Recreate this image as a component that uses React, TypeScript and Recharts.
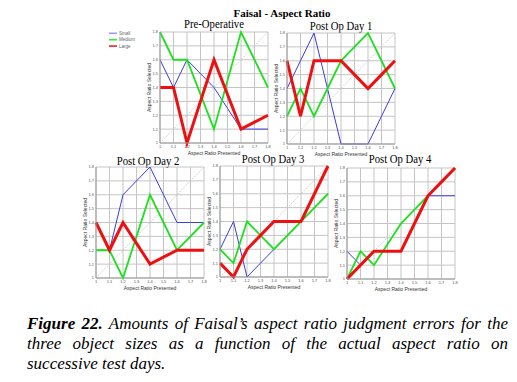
import * as React from "react";
import { CartesianGrid, Line, LineChart, ReferenceLine, XAxis, YAxis } from "recharts";

const ratios = [1, 1.1, 1.2, 1.3, 1.4, 1.5, 1.6, 1.7, 1.8];

const preOpSmall = [1.6, 1.4, 1.6, 1.5, 1.4, 1.25, 1.1, 1.1, 1.1];
const preOpMedium = [1.8, 1.6, 1.6, 1.35, 1.1, 1.45, 1.8, 1.6, 1.4];
const preOpLarge = [1.4, 1.4, 1.0, 1.3, 1.6, 1.35, 1.1, 1.15, 1.2];

const day1Small = [1.4, 1.6, 1.8, 1.4, 1.0, 1.0, 1.0, 1.2, 1.4];
const day1Medium = [1.2, 1.4, 1.2, 1.4, 1.6, 1.7, 1.8, 1.6, 1.4];
const day1Large = [1.6, 1.2, 1.6, 1.6, 1.6, 1.5, 1.4, 1.5, 1.6];

const day2Small = [1.2, 1.2, 1.6, 1.7, 1.8, 1.6, 1.4, 1.4, 1.4];
const day2Medium = [1.2, 1.2, 1.0, 1.3, 1.6, 1.4, 1.2, 1.3, 1.4];
const day2Large = [1.4, 1.2, 1.4, 1.25, 1.1, 1.15, 1.2, 1.2, 1.2];

const day3Small = [1.2, 1.4, 1.0, 1.1, 1.2, 1.3, 1.4, 1.5, 1.6];
const day3Medium = [1.2, 1.1, 1.4, 1.3, 1.2, 1.3, 1.4, 1.5, 1.6];
const day3Large = [1.1, 1.0, 1.2, 1.3, 1.4, 1.4, 1.4, 1.6, 1.8];

const day4Small = [1.2, 1.1, 1.2, 1.2, 1.2, 1.4, 1.6, 1.6, 1.6];
const day4Medium = [1.0, 1.2, 1.1, 1.25, 1.4, 1.5, 1.6, 1.7, 1.8];
const day4Large = [1.0, 1.1, 1.2, 1.2, 1.2, 1.4, 1.6, 1.7, 1.8];

const BLUE = "#3c3cdc";
const GREEN = "#1fe01f";
const RED = "#ee1010";
const SANS = "'Liberation Sans', Arial, sans-serif";
const SERIF = "'Liberation Serif', serif";

const PLOT_W = 108;
const PLOT_H = 111;

interface PanelProps {
  title: string;
  small: number[];
  medium: number[];
  large: number[];
  x0: number;
  y0: number;
  titleX: number;
  titleY: number;
}

function Panel({ title, small, medium, large, x0, y0, titleX, titleY }: PanelProps): React.JSX.Element {
  const data = ratios.map((x, i) => ({ x, small: small[i], medium: medium[i], large: large[i] }));
  const tick = { fontSize: 4, fill: "#555", fontFamily: SANS };
  return (
    <>
      <div
        style={{
          position: "absolute",
          left: titleX - 60,
          top: titleY - 8,
          width: 120,
          textAlign: "center",
          fontFamily: SERIF,
          fontSize: 12,
          lineHeight: "16px",
          transform: "scaleX(0.89)",
        }}
      >
        {title}
      </div>
      <div style={{ position: "absolute", left: x0 - 22, top: y0 - 4, fontFamily: SANS }}>
        <LineChart width={PLOT_W + 26} height={PLOT_H + 20} data={data} margin={{ top: 4, right: 4, left: 10, bottom: 0 }}>
          <CartesianGrid stroke="#c4c4c4" />
          <XAxis
            type="number"
            dataKey="x"
            domain={[1, 1.8]}
            ticks={ratios}
            interval={0}
            height={16}
            tickSize={0}
            tickMargin={2}
            tick={tick}
            stroke="#999"
            label={{
              value: "Aspect Ratio Presented",
              position: "insideBottom",
              offset: 4.5,
              style: { fontSize: 5, fill: "#333", fontFamily: SANS },
            }}
          />
          <YAxis
            type="number"
            domain={[1, 1.8]}
            ticks={ratios}
            interval={0}
            width={12}
            tickSize={0}
            tickMargin={2}
            tick={tick}
            stroke="#999"
            label={{
              value: "Aspect Ratio Selected",
              angle: -90,
              position: "insideLeft",
              offset: 1,
              style: { fontSize: 5, fill: "#333", textAnchor: "middle", fontFamily: SANS },
            }}
          />
          <ReferenceLine
            segment={[
              { x: 1, y: 1 },
              { x: 1.8, y: 1.8 },
            ]}
            stroke="#c8c8c8"
            strokeDasharray="1.5 1.5"
          />
          <Line type="linear" dataKey="small" stroke={BLUE} strokeWidth={1} dot={false} isAnimationActive={false} />
          <Line type="linear" dataKey="medium" stroke={GREEN} strokeWidth={1.8} dot={false} isAnimationActive={false} />
          <Line type="linear" dataKey="large" stroke={RED} strokeWidth={3} dot={false} isAnimationActive={false} />
        </LineChart>
      </div>
    </>
  );
}

const legendItems = [
  { name: "Small", color: "#9a9af0" },
  { name: "Medium", color: "#33ee33" },
  { name: "Large", color: "#ee2222" },
];

export default function App(): React.JSX.Element {
  const captionLine: React.CSSProperties = {
    whiteSpace: "nowrap",
    textAlign: "justify",
    textAlignLast: "justify",
    height: 20,
  };
  return (
    <div
      style={{
        position: "absolute",
        left: 0,
        top: 0,
        width: 517,
        height: 382,
        background: "#fff",
        overflow: "hidden",
      }}
    >
      <div
        style={{
          position: "absolute",
          left: 182,
          top: 5,
          width: 200,
          textAlign: "center",
          fontFamily: SERIF,
          fontWeight: "bold",
          fontSize: 11,
          lineHeight: "16px",
        }}
      >
        Faisal - Aspect Ratio
      </div>

      <svg style={{ position: "absolute", left: 105, top: 28 }} width={40} height={22}>
        {legendItems.map((item, i) => (
          <g key={item.name}>
            <line x1={4} x2={12} y1={5.3 + i * 6.4} y2={5.3 + i * 6.4} stroke={item.color} strokeWidth={1.6} />
            <text x={14} y={5.3 + i * 6.4 + 1.5} fontSize={4.5} fill="#666" fontFamily={SANS}>
              {item.name}
            </text>
          </g>
        ))}
      </svg>

      <Panel title="Pre-Operative" small={preOpSmall} medium={preOpMedium} large={preOpLarge} x0={160} y0={32} titleX={214} titleY={24} />
      <Panel title="Post Op Day 1" small={day1Small} medium={day1Medium} large={day1Large} x0={287} y0={33} titleX={341} titleY={26} />
      <Panel title="Post Op Day 2" small={day2Small} medium={day2Medium} large={day2Large} x0={96} y0={167} titleX={148} titleY={161} />
      <Panel title="Post Op Day 3" small={day3Small} medium={day3Medium} large={day3Large} x0={220} y0={166} titleX={273} titleY={159} />
      <Panel title="Post Op Day 4" small={day4Small} medium={day4Medium} large={day4Large} x0={347} y0={168} titleX={400} titleY={159} />

      <div
        style={{
          position: "absolute",
          left: 27,
          top: 314,
          width: 481,
          fontFamily: SERIF,
          fontStyle: "italic",
          fontSize: 17,
          lineHeight: "20px",
          color: "#000",
        }}
      >
        <div style={captionLine}>
          <b>Figure 22.</b> Amounts of Faisal’s aspect ratio judgment errors for the
        </div>
        <div style={captionLine}>three object sizes as a function of the actual aspect ratio on</div>
        <div style={{ whiteSpace: "nowrap", height: 20 }}>successive test days.</div>
      </div>
    </div>
  );
}
